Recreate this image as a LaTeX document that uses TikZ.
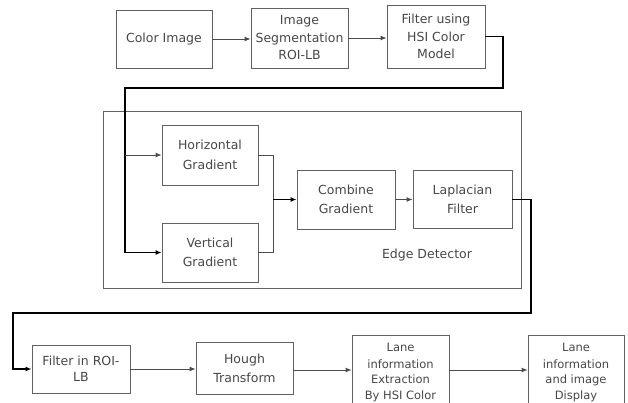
\documentclass[tikz,border=0pt]{standalone}
\usepackage{fontspec}
\setmainfont{DejaVu Sans}
\usetikzlibrary{arrows.meta}
\begin{document}
\begin{tikzpicture}[x=1pt,y=-1pt,
  box/.style={draw=black!62, line width=0.9pt, inner sep=0pt, align=center,
    text=black!72, font=\fontsize{12.5}{17.5}\selectfont},
  thinline/.style={draw=black!70, line width=0.9pt},
  thickline/.style={draw=black, line width=1.3pt},
  tip/.style={-{Latex[length=6pt,width=5pt]}},
  lbl/.style={text=black!72, font=\fontsize{12.5}{17.5}\selectfont}]
\useasboundingbox (0,0) rectangle (628,403);
\begin{scope}
\clip (0,0) rectangle (628,403);
% top row
\node[box, minimum width=96pt, minimum height=58pt] (ci) at (164,39) {Color Image};
\node[box, minimum width=97pt, minimum height=60pt] (seg) at (299.5,38) {Image\\Segmentation\\ROI-LB};
\node[box, minimum width=98pt, minimum height=63pt] (hsi) at (436,36.5) {Filter using\\HSI Color\\Model};
% edge detector
\node[draw=black!62, line width=0.9pt, minimum width=418pt, minimum height=177pt, inner sep=0pt] (ed) at (312,199.5) {};
\node[lbl] (edl) at (427,255) {Edge Detector};
\node[box, minimum width=96pt, minimum height=60pt, font=\fontsize{12.5}{19.5}\selectfont] (hg) at (210,155) {Horizontal\\Gradient};
\node[box, minimum width=96pt, minimum height=59pt, font=\fontsize{12.5}{19.5}\selectfont] (vg) at (210,252.5) {Vertical\\Gradient};
\node[box, minimum width=98pt, minimum height=59pt, font=\fontsize{12.5}{19.5}\selectfont] (cg) at (346,199.5) {Combine\\Gradient};
\node[box, minimum width=99pt, minimum height=58pt, font=\fontsize{12.5}{19.5}\selectfont] (lf) at (462.5,199.5) {Laplacian\\Filter};
% bottom row
\node[box, minimum width=98pt, minimum height=48pt, font=\fontsize{12.5}{16}\selectfont] (fr) at (81,369) {Filter in ROI-\\LB};
\node[box, minimum width=97pt, minimum height=52pt, font=\fontsize{12.5}{19}\selectfont] (ht) at (244.5,368) {Hough\\Transform};
\node[box, minimum width=97pt, minimum height=76pt, font=\fontsize{11.5}{16}\selectfont] (le) at (400.5,373) {Lane\\information\\Extraction\\By HSI Color};
\node[box, minimum width=96pt, minimum height=76pt, font=\fontsize{11.5}{16}\selectfont] (ld) at (576,373) {Lane\\information\\and image\\Display};
% bend points
\coordinate (c1) at (503,38);
\coordinate (c2) at (503,88);
\coordinate (c3) at (125,88);
\coordinate (m) at (273,199.5);
\coordinate (d1) at (531,313);
\coordinate (d2) at (13,313);
\coordinate (r) at (0,370);
% connectors
\draw[thinline, tip] (ci.east) -- (ci.east -| seg.west);
\draw[thinline, tip] (seg.east) -- (seg.east -| hsi.west);
\draw[thickline, tip] (hsi.east) -- (hsi.east -| c1) -- (c2) -- (c3) |- (vg.west);
\draw[thinline, tip] (c3 |- hg.west) -- (hg.west);
\draw[thinline] (hg.east) -| (m);
\draw[thinline] (vg.east) -| (m);
\draw[thickline, tip] (m) -- (m -| cg.west);
\draw[thinline, tip] (cg.east) -- (cg.east -| lf.west);
\draw[thickline, tip] (lf.east) -| (d1) -- (d2) |- (fr.west);
\draw[thinline, tip] (fr.east) -- (fr.east -| ht.west);
\draw[thinline, tip] (ht.east |- r) -- (r -| le.west);
\draw[thinline, tip] (le.east |- r) -- (r -| ld.west);
\end{scope}
\end{tikzpicture}
\end{document}
